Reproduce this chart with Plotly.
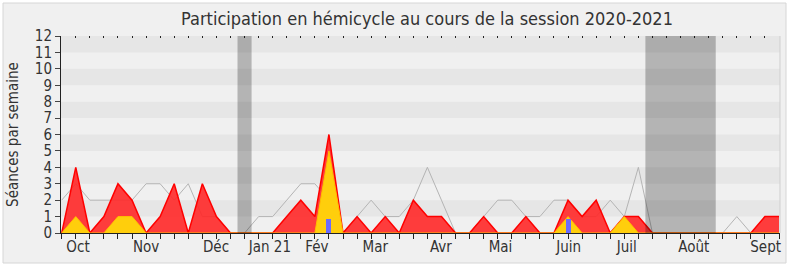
import plotly.graph_objects as go

# ---- data (one value per week of the session, week 0 = end of Sept 2020) ----
weeks = list(range(52))
presence = [0, 4, 0, 1, 3, 2, 0, 1, 3, 0, 3, 1, 0, 0, 0, 0, 1, 2, 1, 6,
            0, 1, 0, 1, 0, 2, 1, 1, 0, 0, 1, 0, 0, 1, 0, 0, 2, 1, 2, 0,
            1, 1, 0, 0, 0, 0, 0, 0, 0, 0, 1, 1]
interventions = [0, 1, 0, 0, 1, 1, 0, 0, 0, 0, 0, 0, 0, 0, 0, 0, 0, 0, 0, 5,
                 0, 0, 0, 0, 0, 0, 0, 0, 0, 0, 0, 0, 0, 0, 0, 0, 1, 0, 0, 0,
                 1, 0, 0, 0, 0, 0, 0, 0, 0, 0, 0, 0]
median = [2, 3, 2, 2, 2, 2, 3, 3, 2, 3, 1, 1, 0, 0, 1, 1, 2, 3, 3, 2,
          0, 1, 2, 1, 1, 2, 4, 2, 0, 0, 1, 2, 2, 1, 1, 2, 2, 1, 1, 2,
          1, 4, 0, 0, 0, 0, 0, 0, 1, 0, 0, 0]
questions_weeks = [19, 36]
questions_vals = [0.88, 0.88]
vacances_debut = [12.5, 41.5]
vacances_fin = [13.5, 46.5]
month_pos = [1.16, 6.0, 10.97, 14.8, 18.15, 22.3, 26.96, 31.2, 36.05, 40.18, 44.94, 50.05]
month_labels = ["Oct", "Nov", "Déc", "Jan 21", "Fév", "Mar", "Avr", "Mai", "Juin", "Juil", "Août", "Sept"]
y_max = 12

FONT = "DejaVu Sans Condensed, DejaVu Sans, sans-serif"
TXT = "#333333"
XR = [-0.05, 51.07]

fig = go.Figure()

fig.add_trace(go.Scatter(x=weeks, y=median, mode="lines",
                         line=dict(color="#b4b4b4", width=1), hoverinfo="skip",
                         showlegend=False))
fig.add_trace(go.Scatter(x=weeks, y=presence, mode="lines", fill="tozeroy",
                         fillcolor="rgba(255,40,40,0.9)",
                         line=dict(color="#ff0000", width=1.5), showlegend=False))
fig.add_trace(go.Scatter(x=weeks, y=interventions, mode="lines", fill="tozeroy",
                         fillcolor="rgba(255,214,10,0.95)",
                         line=dict(color="#ffbf00", width=1), showlegend=False))
# bars on the overlaying axis so they are drawn above the filled areas
fig.add_trace(go.Bar(x=questions_weeks, y=questions_vals, width=0.35, xaxis="x2",
                     marker=dict(color="#6b6bff", line=dict(width=0)), showlegend=False))

shapes = []
# outer frame
shapes.append(dict(type="rect", xref="paper", yref="paper",
                   x0=(3 - 61) / 719, x1=(786 - 61) / 719,
                   y0=(233 - 263) / 197, y1=(233 - 3) / 197,
                   line=dict(color="#d6d6d6", width=1), fillcolor="#f0f0f0", layer="below"))
# alternate horizontal bands
for k in range(0, y_max, 2):
    shapes.append(dict(type="rect", xref="paper", yref="y", x0=0, x1=1,
                       y0=k + 1, y1=k + 2, fillcolor="#e6e6e6", line=dict(width=0),
                       layer="below"))
# vacation bands
for a, b in zip(vacances_debut, vacances_fin):
    shapes.append(dict(type="rect", xref="x", yref="paper", x0=a, x1=b, y0=0, y1=1,
                       fillcolor="rgba(0,0,0,0.25)", line=dict(width=0), layer="above"))
# right border
shapes.append(dict(type="line", xref="paper", yref="paper", x0=1, x1=1, y0=0, y1=1,
                   line=dict(color="#cfcfcf", width=1)))

fig.update_layout(
    width=790, height=267,
    margin=dict(l=61, r=10, t=36, b=34),
    paper_bgcolor="white", plot_bgcolor="#fafafa",
    font=dict(family=FONT, color=TXT, size=15),
    title=dict(text="Participation en hémicycle au cours de la session 2020-2021",
               x=427 / 790, xanchor="center", y=1 - 19 / 267, yanchor="middle",
               xref="container", yref="container",
               font=dict(family=FONT, size=18, color=TXT)),
    shapes=shapes,
    bargap=0,
    xaxis=dict(range=XR, tickmode="array", tickvals=month_pos, ticktext=month_labels,
               ticks="", automargin=False,
               showgrid=False, zeroline=False, showline=True, linecolor="#222222",
               linewidth=1, tickfont=dict(size=15, color=TXT),
               minor=dict(ticks="outside", ticklen=5, tickcolor="#222222",
                          tick0=0, dtick=1, showgrid=False)),
    xaxis2=dict(range=XR, overlaying="x", side="top", anchor="y", tick0=0, dtick=1,
                ticks="inside", ticklen=2, tickcolor="#222222", showticklabels=False,
                showgrid=False, zeroline=False, showline=False, automargin=False),
    yaxis=dict(range=[0, y_max], tick0=0, dtick=1, ticks="outside", ticklen=5,
               tickcolor="#444444", showgrid=False, zeroline=False, showline=True,
               linecolor="#222222", linewidth=1, tickfont=dict(size=15, color=TXT),
               automargin=False,
               title=dict(text="Séances par semaine", standoff=12,
                          font=dict(size=15, color=TXT))),
)

fig.write_html("out.html")
